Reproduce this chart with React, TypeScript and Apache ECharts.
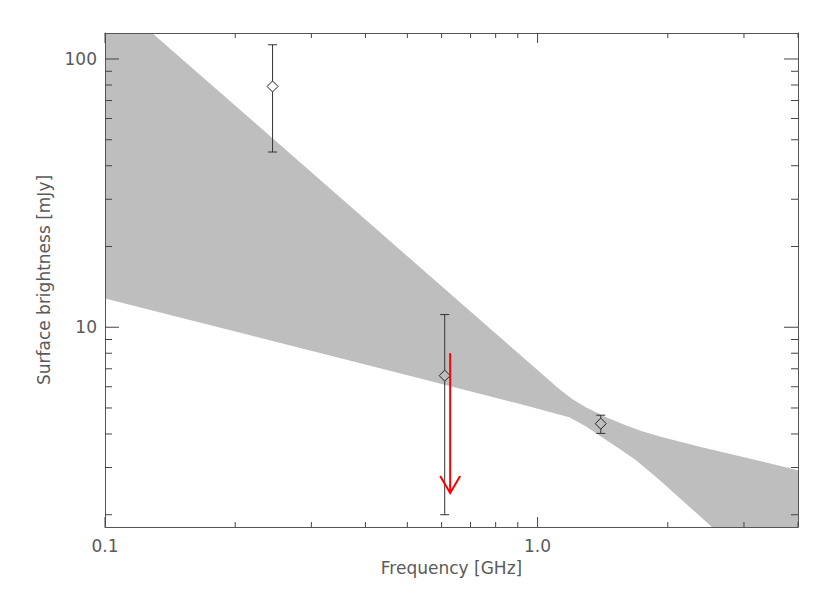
import React, { useEffect, useRef } from 'react';
import * as echarts from 'echarts';

// Axis ranges (log axes)
const xRange = [0.1, 4.0];
const yRange = [1.8, 125];

// Tick values
const xMajorTicks = [0.1, 1];
const xMinorTicks = [0.2, 0.3, 0.4, 0.5, 0.6, 0.7, 0.8, 0.9, 2, 3, 4];
const yMajorTicks = [10, 100];
const yMinorTicks = [2, 3, 4, 5, 6, 7, 8, 9, 20, 30, 40, 50, 60, 70, 80, 90];

// Shaded uncertainty band (upper and lower envelopes)
const bandUpperFreq = [0.1285, 1.122, 1.202, 1.293, 1.432, 1.604, 1.743, 1.908, 2.359, 4.0];
const bandUpperVal = [125, 5.885, 5.397, 5.034, 4.637, 4.30, 4.091, 3.923, 3.594, 2.93];
const bandLowerFreq = [0.1, 0.48, 0.907, 1.036, 1.183, 1.295, 1.412, 1.543, 1.686, 1.908, 2.53];
const bandLowerVal = [12.8, 6.74, 5.18, 4.893, 4.62, 4.266, 3.882, 3.532, 3.201, 2.708, 1.8];

// Measurements with error bars
const pointFreq = [0.244, 0.61, 1.40];
const pointVal = [79, 6.6, 4.37];
const pointLow = [45, 2.0, 4.02];
const pointHigh = [113, 11.15, 4.70];

// Upper limit arrow
const arrowFreq = [0.628];
const arrowFrom = [8.0];
const arrowTo = [2.41];

const FONT = 'DejaVu Sans';
const TEXT = '#5a5a5a';

export default function App() {
  const ref = useRef<HTMLDivElement>(null);
  useEffect(() => {
    const chart = echarts.init(ref.current as HTMLDivElement, null, { renderer: 'svg' });

    const upperPts = bandUpperFreq.map((f, i) => [f, bandUpperVal[i]]);
    const lowerPts = bandLowerFreq.map((f, i) => [f, bandLowerVal[i]]).reverse();
    const polyData = [[xRange[0], yRange[1]], ...upperPts, [xRange[1], yRange[0]], ...lowerPts];

    const near = (v: number, t: number) => Math.abs(v - t) < t * 1e-6;
    const xFmt = (v: number) => (near(v, 0.1) ? '0.1' : near(v, 1) ? '1.0' : near(v, 10) ? '10' : '');
    const yFmt = (v: number) => (near(v, 10) ? '10' : near(v, 100) ? '100' : '');

    const axisLine = { show: true, lineStyle: { color: '#555', width: 1 } };
    const baseAxis = {
      type: 'log',
      logBase: 10,
      z: 10,
      axisTick: { show: false },
      minorTick: { show: false },
      splitLine: { show: false },
      axisLine,
    };

    const xTickData = [
      ...xMajorTicks.map((v) => [v, yRange[0], 1]),
      ...xMinorTicks.map((v) => [v, yRange[0], 0]),
    ];
    const yTickData = [
      ...yMajorTicks.map((v) => [xRange[0], v, 1]),
      ...yMinorTicks.map((v) => [xRange[0], v, 0]),
    ];

    chart.setOption({
      animation: false,
      backgroundColor: '#ffffff',
      grid: { left: 105, top: 33, width: 693, height: 494, containLabel: false, outerBoundsMode: 'none' },
      xAxis: [
        {
          ...baseAxis,
          min: xRange[0],
          max: xRange[1],
          position: 'bottom',
          axisLabel: {
            formatter: xFmt,
            margin: 10,
            color: TEXT,
            fontFamily: FONT,
            fontSize: 17,
            showMinLabel: true,
            showMaxLabel: false,
          },
          name: 'Frequency [GHz]',
          nameLocation: 'middle',
          nameGap: 32,
          nameTextStyle: { color: TEXT, fontFamily: FONT, fontSize: 17 },
        },
        {
          ...baseAxis,
          min: xRange[0],
          max: xRange[1],
          position: 'top',
          axisLabel: { show: false },
        },
      ],
      yAxis: [
        {
          ...baseAxis,
          min: yRange[0],
          max: yRange[1],
          position: 'left',
          axisLabel: {
            formatter: yFmt,
            margin: 8,
            color: TEXT,
            fontFamily: FONT,
            fontSize: 17,
            showMinLabel: false,
            showMaxLabel: false,
          },
          name: 'Surface brightness [mJy]',
          nameLocation: 'middle',
          nameGap: 53,
          nameTextStyle: { color: TEXT, fontFamily: FONT, fontSize: 17 },
        },
        {
          ...baseAxis,
          min: yRange[0],
          max: yRange[1],
          position: 'right',
          axisLabel: { show: false },
        },
      ],
      series: [
        {
          type: 'custom',
          name: 'band',
          z: 1,
          clip: true,
          data: [[xRange[0], yRange[0]]],
          renderItem: (params: any, api: any) => {
            const pts = polyData.map((p) => api.coord(p));
            return {
              type: 'polygon',
              shape: { points: pts },
              style: { fill: '#bebebe', stroke: 'none' },
            };
          },
        },
        {
          type: 'custom',
          name: 'xticks',
          z: 11,
          data: xTickData,
          encode: { x: 0, y: 1 },
          renderItem: (params: any, api: any) => {
            const x = api.value(0);
            const major = api.value(2) === 1;
            const b = api.coord([x, yRange[0]]);
            const t = api.coord([x, yRange[1]]);
            const len = major ? 10 : 5;
            const style = { stroke: '#444', lineWidth: 1 };
            return {
              type: 'group',
              children: [
                { type: 'line', shape: { x1: b[0], y1: b[1], x2: b[0], y2: b[1] - len }, style },
                { type: 'line', shape: { x1: t[0], y1: t[1], x2: t[0], y2: t[1] + len }, style },
              ],
            };
          },
        },
        {
          type: 'custom',
          name: 'yticks',
          z: 11,
          data: yTickData,
          encode: { x: 0, y: 1 },
          renderItem: (params: any, api: any) => {
            const y = api.value(1);
            const major = api.value(2) === 1;
            const l = api.coord([xRange[0], y]);
            const r = api.coord([xRange[1], y]);
            const len = major ? 14 : 7;
            const style = { stroke: '#444', lineWidth: 1 };
            return {
              type: 'group',
              children: [
                { type: 'line', shape: { x1: l[0], y1: l[1], x2: l[0] + len, y2: l[1] }, style },
                { type: 'line', shape: { x1: r[0], y1: r[1], x2: r[0] - len, y2: r[1] }, style },
              ],
            };
          },
        },
        {
          type: 'custom',
          name: 'points',
          z: 5,
          data: pointFreq.map((f, i) => [f, pointVal[i], pointLow[i], pointHigh[i]]),
          encode: { x: 0, y: 1 },
          renderItem: (params: any, api: any) => {
            const x = api.value(0);
            const c = api.coord([x, api.value(1)]);
            const lo = api.coord([x, api.value(2)]);
            const hi = api.coord([x, api.value(3)]);
            const d = 5.5;
            const cap = 4.5;
            const style = { stroke: '#333', lineWidth: 1 };
            return {
              type: 'group',
              children: [
                { type: 'line', shape: { x1: c[0], y1: hi[1], x2: c[0], y2: c[1] - d }, style },
                { type: 'line', shape: { x1: c[0], y1: c[1] + d, x2: c[0], y2: lo[1] }, style },
                { type: 'line', shape: { x1: c[0] - cap, y1: hi[1], x2: c[0] + cap, y2: hi[1] }, style },
                { type: 'line', shape: { x1: c[0] - cap, y1: lo[1], x2: c[0] + cap, y2: lo[1] }, style },
                {
                  type: 'polygon',
                  shape: {
                    points: [
                      [c[0], c[1] - d],
                      [c[0] + d, c[1]],
                      [c[0], c[1] + d],
                      [c[0] - d, c[1]],
                    ],
                  },
                  style: { fill: 'none', stroke: '#222', lineWidth: 1 },
                },
              ],
            };
          },
        },
        {
          type: 'custom',
          name: 'limit',
          z: 6,
          data: arrowFreq.map((f, i) => [f, arrowFrom[i], arrowTo[i]]),
          encode: { x: 0, y: 1 },
          renderItem: (params: any, api: any) => {
            const x = api.value(0);
            const top = api.coord([x, api.value(1)]);
            const tip = api.coord([x, api.value(2)]);
            const style = { stroke: '#ff0000', lineWidth: 2, fill: 'none' };
            return {
              type: 'group',
              children: [
                { type: 'line', shape: { x1: top[0], y1: top[1], x2: tip[0], y2: tip[1] }, style },
                {
                  type: 'polyline',
                  shape: {
                    points: [
                      [tip[0] - 10, tip[1] - 17],
                      [tip[0], tip[1]],
                      [tip[0] + 10, tip[1] - 17],
                    ],
                  },
                  style,
                },
              ],
            };
          },
        },
      ],
    });
    return () => chart.dispose();
  }, []);

  return (
    <div
      ref={ref}
      style={{ position: 'fixed', left: 0, top: 0, width: 830, height: 593, background: '#fff' }}
    />
  );
}
